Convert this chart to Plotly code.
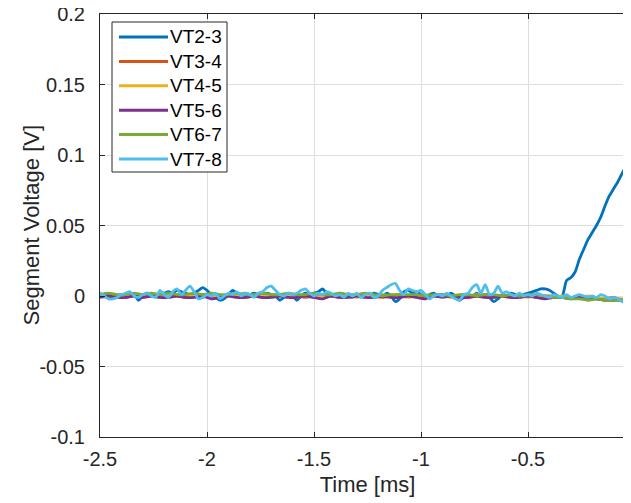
import numpy as np
import plotly.graph_objects as go

# ---------------- data ----------------
series_names = ["VT2-3", "VT3-4", "VT4-5", "VT5-6", "VT6-7", "VT7-8"]
series_colors = ["#0072BD", "#D95319", "#EDB120", "#7E2F8E", "#77AC30", "#4DBEEE"]

# fine grid (0.02 ms) for the two noisy traces
t_fine = np.round(np.linspace(-2.5, 0.0, 126), 3)
# coarse grid (0.04 ms) for the quiet traces
t_coarse = np.round(np.linspace(-2.5, -0.02, 63), 3)

vt23 = [
    0.002, 0.000, 0.001, -0.001, 0.000, 0.001, -0.001, 0.000, 0.001, -0.003,
    0.000, 0.002, 0.001, 0.000, 0.001, 0.002, 0.003, 0.002, 0.004, 0.003,
    0.002, 0.001, 0.002, 0.004, 0.006, 0.004, 0.001, -0.001, -0.003, -0.002,
    0.001, 0.004, 0.002, 0.001, 0.002, 0.001, 0.002, 0.001, 0.000, 0.002,
    0.001, 0.000, -0.003, -0.001, 0.001, 0.000, -0.003, 0.000, 0.002, 0.001,
    0.002, 0.003, 0.005, 0.002, 0.001, 0.000, 0.002, 0.001, 0.000, -0.001,
    0.001, 0.000, 0.001, 0.000, 0.002, 0.001, 0.000, 0.002, 0.000, -0.004,
    -0.002, 0.003, 0.004, 0.002, 0.003, 0.001, 0.000, 0.001, 0.002, 0.000,
    0.001, 0.000, 0.002, 0.000, -0.003, -0.001, 0.001, 0.000, 0.002, 0.000,
    0.001, -0.001, -0.004, -0.002, 0.001, 0.000, 0.002, 0.001, 0.000, 0.001,
    0.002, 0.003, 0.004, 0.005, 0.005, 0.004, 0.002, 0.000, 0.000, 0.011,
    0.013, 0.017, 0.026, 0.033, 0.040, 0.045, 0.050, 0.056, 0.064, 0.071,
    0.076, 0.081, 0.087, 0.093, 0.102, 0.110,
]

vt34 = [
    0.000, -0.001, 0.000, 0.001, 0.000, -0.001, 0.000, 0.001, 0.000, 0.000,
    -0.001, 0.000, 0.001, 0.000, -0.001, 0.000, 0.001, 0.000, 0.000, -0.001,
    0.000, 0.001, 0.000, 0.000, -0.001, 0.000, 0.001, 0.000, -0.001, 0.000,
    0.000, 0.001, 0.000, -0.001, 0.000, 0.001, 0.000, 0.000, -0.001, 0.000,
    0.001, 0.000, 0.000, -0.001, 0.000, 0.001, 0.000, 0.000, -0.001, 0.000,
    0.000, -0.001, 0.000, 0.000, -0.001, -0.001, 0.000, -0.001, -0.002, -0.002,
    -0.001, -0.003, -0.002,
]

vt45 = [
    0.000, 0.000, -0.001, 0.000, 0.001, 0.000, 0.000, -0.001, 0.000, 0.001,
    0.000, 0.000, -0.001, 0.000, 0.000, 0.001, 0.000, -0.001, 0.000, 0.000,
    0.001, 0.000, 0.000, -0.001, 0.000, -0.001, 0.000, 0.001, 0.000, 0.000,
    -0.001, 0.000, 0.000, 0.001, 0.000, 0.000, -0.001, 0.000, 0.001, 0.000,
    0.000, -0.001, 0.000, 0.000, 0.001, 0.000, -0.001, 0.000, 0.000, 0.000,
    -0.001, 0.000, 0.000, -0.001, 0.000, -0.001, -0.001, 0.000, -0.001, -0.002,
    -0.002, -0.002, -0.003,
]

vt56 = [
    -0.001, 0.000, -0.001, -0.001, 0.000, -0.001, 0.000, -0.001, -0.001, 0.000,
    -0.001, -0.001, 0.000, -0.002, -0.001, 0.000, -0.001, -0.001, 0.000, -0.001,
    -0.001, 0.000, -0.001, -0.001, 0.000, -0.001, -0.002, 0.000, -0.001, -0.001,
    0.000, -0.001, -0.001, 0.000, -0.001, -0.001, 0.000, -0.001, -0.002, 0.000,
    -0.001, 0.000, -0.001, -0.001, 0.000, -0.001, -0.001, 0.000, -0.001, -0.001,
    0.000, -0.001, -0.002, -0.001, -0.001, -0.002, -0.001, -0.002, -0.002, -0.003,
    -0.003, -0.003, -0.004,
]

vt67 = [
    0.001, 0.002, 0.001, 0.001, 0.002, 0.001, 0.002, 0.001, 0.002, 0.001,
    0.001, 0.002, 0.001, 0.002, 0.001, 0.001, 0.002, 0.001, 0.001, 0.002,
    0.001, 0.001, 0.002, 0.001, 0.001, 0.002, 0.001, 0.001, 0.002, 0.001,
    0.001, 0.002, 0.001, 0.000, 0.001, 0.001, 0.001, 0.001, 0.000, 0.001,
    0.001, 0.000, 0.001, 0.001, 0.000, 0.001, 0.001, 0.000, 0.001, 0.000,
    0.001, 0.001, 0.000, -0.001, -0.001, -0.002, -0.002, -0.003, -0.002, -0.003,
    -0.003, -0.003, -0.003,
]

vt78 = [
    0.002, 0.000, -0.002, -0.002, -0.001, 0.001, 0.002, 0.003, 0.000, -0.001,
    0.001, 0.002, 0.000, -0.001, 0.004, 0.001, -0.001, 0.003, 0.005, 0.001,
    0.004, 0.007, 0.003, -0.002, -0.001, 0.001, 0.000, 0.002, -0.002, 0.000,
    0.002, 0.001, 0.003, 0.000, 0.002, 0.001, -0.001, 0.002, 0.003, 0.006,
    0.007, 0.004, 0.001, 0.000, 0.002, 0.001, 0.002, 0.004, 0.005, 0.002,
    0.000, 0.002, 0.001, 0.003, 0.002, 0.000, 0.001, -0.001, 0.002, 0.000,
    0.002, -0.001, 0.001, 0.002, -0.001, 0.000, 0.004, 0.006, 0.008, 0.009,
    0.004, 0.001, 0.005, 0.004, 0.003, 0.004, 0.001, -0.002, 0.000, 0.001,
    0.000, 0.002, 0.000, -0.002, -0.003, 0.001, 0.002, 0.006, 0.008, 0.002,
    0.008, 0.001, 0.002, 0.007, 0.002, 0.003, 0.001, 0.000, 0.002, 0.000,
    0.001, 0.000, 0.002, 0.001, 0.000, -0.001, 0.001, 0.000, -0.001, 0.001,
    -0.001, 0.000, 0.001, 0.000, -0.001, 0.000, -0.001, 0.001, 0.000, -0.002,
    -0.001, -0.002, -0.004, -0.005, -0.005, -0.004,
]

x_tick_vals = [-2.5, -2, -1.5, -1, -0.5, 0]
x_tick_text = ["-2.5", "-2", "-1.5", "-1", "-0.5", "0"]
y_tick_vals = [-0.1, -0.05, 0, 0.05, 0.1, 0.15, 0.2]
y_tick_text = ["-0.1", "-0.05", "0", "0.05", "0.1", "0.15", "0.2"]
x_label = "Time [ms]"
y_label = "Segment Voltage [V]"

# ---------------- figure ----------------
FONT = "Liberation Sans, Arial, Helvetica, sans-serif"
TXT = "#262626"
OFF = 8  # page body margin: the figure starts 8 px right / down in the window
W, H = 631, 503
# plot area in window pixels: left 100, right 635 (x = 0), top 14, bottom 437
ML = 100 - OFF
MT = 14 - OFF
MR = W - (635 - OFF)
MB = H - (437 - OFF)
PW, PH = W - ML - MR, H - MT - MB

def px_x(p):
    return (p - OFF - ML) / PW

def px_y(p):
    return (H - MB - (p - OFF)) / PH

series = [
    (t_fine, vt23), (t_coarse, vt34), (t_coarse, vt45),
    (t_coarse, vt56), (t_coarse, vt67), (t_fine, vt78),
]

fig = go.Figure()
for (tt, vv), name, col in zip(series, series_names, series_colors):
    n = min(len(tt), len(vv))
    fig.add_trace(go.Scatter(
        x=tt[:n], y=vv[:n], name=name, mode="lines", showlegend=False,
        line=dict(color=col, width=2.8, shape="spline", smoothing=0.6),
    ))

fig.update_layout(
    width=W, height=H,
    margin=dict(l=ML, r=MR, t=MT, b=MB, autoexpand=False),
    paper_bgcolor="white", plot_bgcolor="white",
    font=dict(family=FONT, size=20, color=TXT),
    showlegend=False,
    xaxis=dict(
        range=[-2.5, 0.0], automargin=False,
        tickvals=x_tick_vals, ticktext=x_tick_text,
        ticks="inside", ticklen=5, tickcolor=TXT,
        showline=True, linecolor=TXT, linewidth=1, mirror="ticks",
        showgrid=True, gridcolor="#dedede", gridwidth=1,
        zeroline=False, ticklabeloverflow="allow",
        title=dict(text=x_label, font=dict(size=22, color=TXT), standoff=7),
        ticklabelstandoff=4,
    ),
    yaxis=dict(
        range=[-0.1, 0.2], automargin=False,
        tickvals=y_tick_vals, ticktext=y_tick_text,
        ticks="inside", ticklen=5, tickcolor=TXT,
        showline=True, linecolor=TXT, linewidth=1, mirror=False,
        showgrid=True, gridcolor="#dedede", gridwidth=1,
        zeroline=False, ticklabeloverflow="allow",
        ticklabelstandoff=10,
    ),
)

# y-axis label placed as in the reference
fig.add_annotation(
    x=px_x(31), y=px_y(225.5), xref="paper", yref="paper",
    text=y_label, textangle=-90, showarrow=False,
    xanchor="center", yanchor="middle",
    font=dict(family=FONT, size=22, color=TXT),
)

# legend box (MATLAB style, long line samples)
fig.add_shape(
    type="rect", xref="paper", yref="paper",
    x0=px_x(112), x1=px_x(227), y0=px_y(172), y1=px_y(22),
    line=dict(color=TXT, width=1), fillcolor="white", layer="above",
)
for k, (name, col) in enumerate(zip(series_names, series_colors)):
    yy = px_y(37 + 24.4 * k)
    fig.add_shape(
        type="line", xref="paper", yref="paper",
        x0=px_x(119), x1=px_x(168), y0=yy, y1=yy,
        line=dict(color=col, width=3), layer="above",
    )
    fig.add_annotation(
        x=px_x(168), y=yy, xref="paper", yref="paper",
        text=name, showarrow=False, xanchor="left", yanchor="middle",
        font=dict(family=FONT, size=19, color="#000000"),
    )

fig.write_html("out.html")
